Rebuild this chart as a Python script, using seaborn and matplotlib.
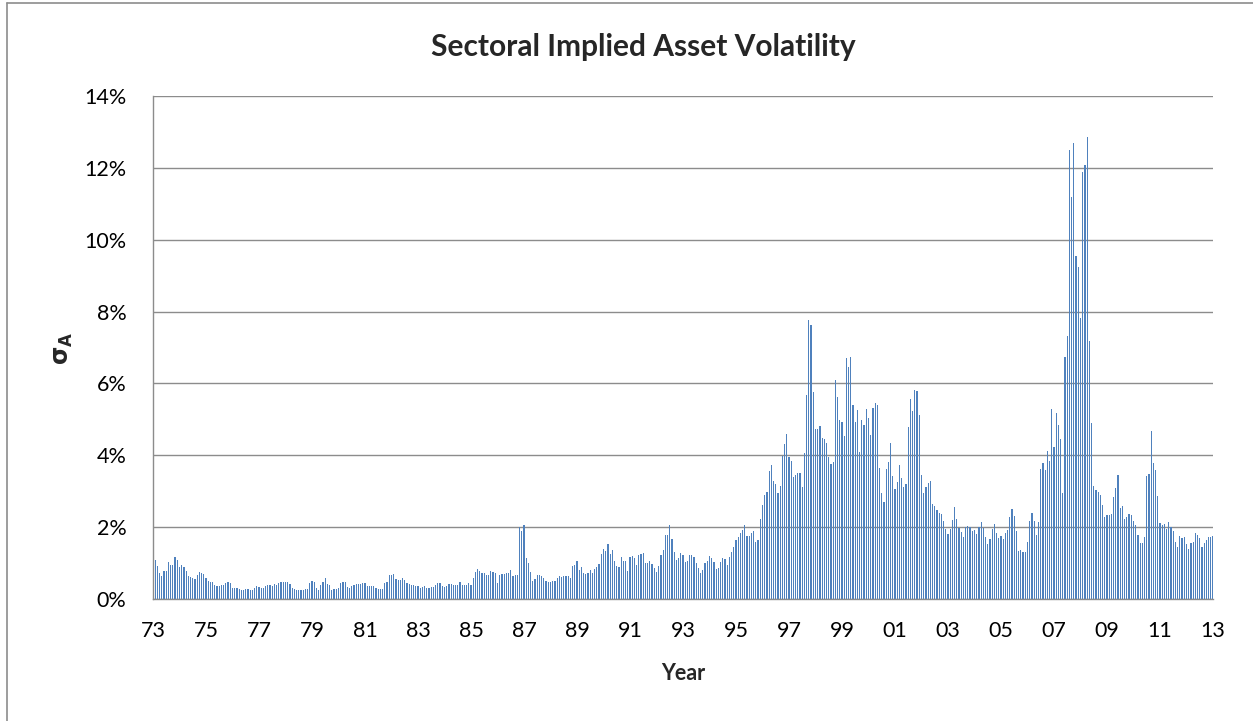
import numpy as np
import pandas as pd
import seaborn as sns
import matplotlib.pyplot as plt
from matplotlib.lines import Line2D
from matplotlib.ticker import FuncFormatter

# monthly implied asset volatility (%), Jan 1973 .. Jan 2013
v1973 = [0.99, 1.09, 0.93, 0.72, 0.65, 0.77, 0.79, 1.04, 0.96, 0.96, 1.18, 1.09]
v1974 = [0.90, 0.96, 0.90, 0.77, 0.65, 0.60, 0.58, 0.55, 0.68, 0.74, 0.72, 0.70]
v1975 = [0.58, 0.51, 0.48, 0.46, 0.40, 0.35, 0.35, 0.39, 0.39, 0.45, 0.48, 0.44]
v1976 = [0.32, 0.31, 0.30, 0.28, 0.26, 0.25, 0.27, 0.27, 0.25, 0.25, 0.32, 0.36]
v1977 = [0.34, 0.32, 0.30, 0.37, 0.39, 0.40, 0.35, 0.41, 0.39, 0.45, 0.47, 0.46]
v1978 = [0.48, 0.48, 0.43, 0.32, 0.28, 0.25, 0.25, 0.26, 0.26, 0.29, 0.29, 0.45]
v1979 = [0.50, 0.48, 0.31, 0.26, 0.40, 0.48, 0.58, 0.43, 0.39, 0.26, 0.28, 0.28]
v1980 = [0.32, 0.45, 0.48, 0.47, 0.33, 0.32, 0.35, 0.40, 0.43, 0.42, 0.41, 0.45]
v1981 = [0.45, 0.35, 0.35, 0.35, 0.36, 0.32, 0.28, 0.28, 0.29, 0.45, 0.48, 0.68]
v1982 = [0.68, 0.70, 0.56, 0.52, 0.54, 0.59, 0.53, 0.45, 0.42, 0.40, 0.40, 0.35]
v1983 = [0.36, 0.32, 0.33, 0.36, 0.31, 0.31, 0.34, 0.34, 0.40, 0.45, 0.45, 0.37]
v1984 = [0.33, 0.37, 0.42, 0.41, 0.38, 0.39, 0.40, 0.47, 0.39, 0.39, 0.40, 0.45]
v1985 = [0.39, 0.59, 0.76, 0.83, 0.77, 0.72, 0.71, 0.68, 0.68, 0.79, 0.74, 0.71]
v1986 = [0.45, 0.67, 0.70, 0.70, 0.71, 0.73, 0.82, 0.63, 0.68, 0.68, 2.00, 1.88]
v1987 = [2.07, 1.15, 1.01, 0.76, 0.51, 0.55, 0.66, 0.66, 0.65, 0.58, 0.49, 0.48]
v1988 = [0.48, 0.50, 0.50, 0.58, 0.64, 0.60, 0.63, 0.64, 0.64, 0.58, 0.93, 0.94]
v1989 = [1.07, 0.82, 0.88, 0.72, 0.69, 0.72, 0.82, 0.71, 0.83, 0.89, 0.98, 1.26]
v1990 = [1.38, 1.34, 1.52, 1.26, 1.37, 1.05, 0.93, 0.88, 1.16, 1.06, 1.06, 0.79]
v1991 = [1.16, 1.21, 1.15, 0.95, 1.22, 1.26, 1.27, 1.01, 1.01, 1.07, 0.98, 0.87]
v1992 = [0.76, 0.91, 1.23, 1.37, 1.78, 1.79, 2.07, 1.68, 1.32, 1.08, 1.13, 1.27]
v1993 = [1.23, 1.02, 1.06, 1.22, 1.22, 1.18, 1.00, 0.87, 0.73, 0.82, 1.00, 1.06]
v1994 = [1.20, 1.15, 1.03, 0.84, 0.87, 1.04, 1.14, 1.12, 0.96, 1.17, 1.31, 1.44]
v1995 = [1.64, 1.73, 1.84, 1.93, 2.06, 1.74, 1.76, 1.84, 1.89, 1.58, 1.63, 2.23]
v1996 = [2.62, 2.90, 2.98, 3.55, 3.73, 3.29, 3.21, 2.96, 3.14, 3.98, 4.31, 4.58]
v1997 = [3.96, 3.84, 3.40, 3.46, 3.50, 3.52, 3.11, 4.06, 5.69, 7.76, 7.63, 5.77]
v1998 = [4.72, 4.72, 4.81, 4.48, 4.44, 4.33, 3.94, 3.77, 3.80, 6.10, 5.63, 4.97]
v1999 = [4.94, 4.53, 6.72, 6.45, 6.73, 5.39, 4.94, 5.26, 4.09, 4.97, 4.85, 5.30]
v2000 = [5.03, 4.57, 5.31, 5.45, 5.41, 3.65, 2.96, 2.69, 3.61, 3.82, 4.35, 3.43]
v2001 = [3.05, 3.25, 3.73, 3.36, 3.11, 3.21, 4.80, 5.56, 5.23, 5.83, 5.80, 5.11]
v2002 = [3.46, 2.94, 3.11, 3.22, 3.29, 2.65, 2.60, 2.47, 2.39, 2.37, 2.18, 1.94]
v2003 = [1.81, 1.94, 2.21, 2.56, 2.22, 1.97, 1.86, 1.73, 2.01, 2.02, 2.01, 1.88]
v2004 = [1.91, 1.82, 2.00, 2.13, 1.98, 1.73, 1.54, 1.67, 1.95, 2.10, 1.85, 1.71]
v2005 = [1.74, 1.68, 1.83, 1.91, 2.28, 2.51, 2.32, 1.88, 1.33, 1.35, 1.32, 1.31]
v2006 = [1.59, 2.17, 2.39, 2.18, 1.77, 2.13, 3.63, 3.79, 3.59, 4.12, 3.85, 5.28]
v2007 = [4.22, 5.18, 4.83, 4.46, 2.96, 6.73, 7.32, 12.50, 11.19, 12.70, 9.54, 9.24]
v2008 = [7.81, 11.88, 12.07, 12.85, 7.17, 4.89, 3.15, 3.02, 2.97, 2.90, 2.63, 2.28]
v2009 = [2.33, 2.34, 2.37, 2.83, 3.08, 3.44, 2.54, 2.58, 2.24, 2.28, 2.36, 2.33]
v2010 = [2.16, 2.06, 1.79, 1.56, 1.56, 1.72, 3.42, 3.47, 4.67, 3.78, 3.58, 2.86]
v2011 = [2.12, 2.05, 2.10, 1.96, 2.14, 2.01, 1.89, 1.58, 1.44, 1.75, 1.69, 1.73]
v2012 = [1.53, 1.39, 1.56, 1.58, 1.83, 1.78, 1.71, 1.45, 1.56, 1.63, 1.72, 1.72]
v2013 = [1.74]

year_labels = ["73", "75", "77", "79", "81", "83", "85", "87", "89", "91",
               "93", "95", "97", "99", "01", "03", "05", "07", "09", "11", "13"]

vol = (v1973 + v1974 + v1975 + v1976 + v1977 + v1978 + v1979 + v1980 + v1981 + v1982
       + v1983 + v1984 + v1985 + v1986 + v1987 + v1988 + v1989 + v1990 + v1991 + v1992
       + v1993 + v1994 + v1995 + v1996 + v1997 + v1998 + v1999 + v2000 + v2001 + v2002
       + v2003 + v2004 + v2005 + v2006 + v2007 + v2008 + v2009 + v2010 + v2011 + v2012
       + v2013)
df = pd.DataFrame({"month": np.arange(len(vol)), "vol": vol})

sns.set_theme(style="white")
plt.rcParams["font.family"] = ["Lato", "DejaVu Sans"]
plt.rcParams["mathtext.fontset"] = "dejavusans"

W, H = 1253, 721
fig = plt.figure(figsize=(W / 100, H / 100), dpi=100)
ax = fig.add_axes([153 / W, 1 - 599 / H, (1213 - 153) / W, (599 - 96) / H])

sns.barplot(data=df, x="month", y="vol", color="#4F81BD", saturation=1,
            width=0.55, linewidth=0, native_scale=True, ax=ax)

grey = "#8c8c8c"
ax.set_ylim(0, 14)
ax.set_yticks(np.arange(0, 15, 2))
ax.yaxis.set_major_formatter(FuncFormatter(lambda v, p: f"{v:.0f}%"))
ax.grid(axis="y", color=grey, linewidth=1.0)
ax.set_axisbelow(True)

ax.set_xlim(0, len(vol) - 1)
ax.set_xticks(np.arange(0, len(vol), 24))
ax.set_xticklabels(year_labels)

for side in ["top", "right"]:
    ax.spines[side].set_visible(False)
for side in ["left", "bottom"]:
    ax.spines[side].set_color(grey)
    ax.spines[side].set_linewidth(1.0)

ax.tick_params(axis="both", length=0, labelsize=15.5, colors="black")
ax.tick_params(axis="y", pad=19)
ax.tick_params(axis="x", pad=16)

# title is centred on the whole chart area, not on the plot
fig.text(643 / W, 1 - 47 / H, "Sectoral Implied Asset Volatility",
         ha="center", va="center", fontsize=21.5, fontweight="bold")
ax.set_xlabel("Year", fontsize=15.5, fontweight="bold", va="center")
ax.xaxis.set_label_coords(0.5, -(674 - 599) / 503)
ax.set_ylabel(r"$\mathbf{\sigma_A}$", fontsize=17, va="center")
ax.yaxis.set_label_coords(-(153 - 64) / 1060, (599 - 348) / 503)

# chart-area frame (left and top edges visible in the reference)
fig.add_artist(Line2D([7 / W, 7 / W], [0, 1 - 3 / H], color=grey, lw=1.2))
fig.add_artist(Line2D([7 / W, 1], [1 - 3 / H, 1 - 3 / H], color=grey, lw=1.2))

fig.savefig("out.png", dpi=100)
